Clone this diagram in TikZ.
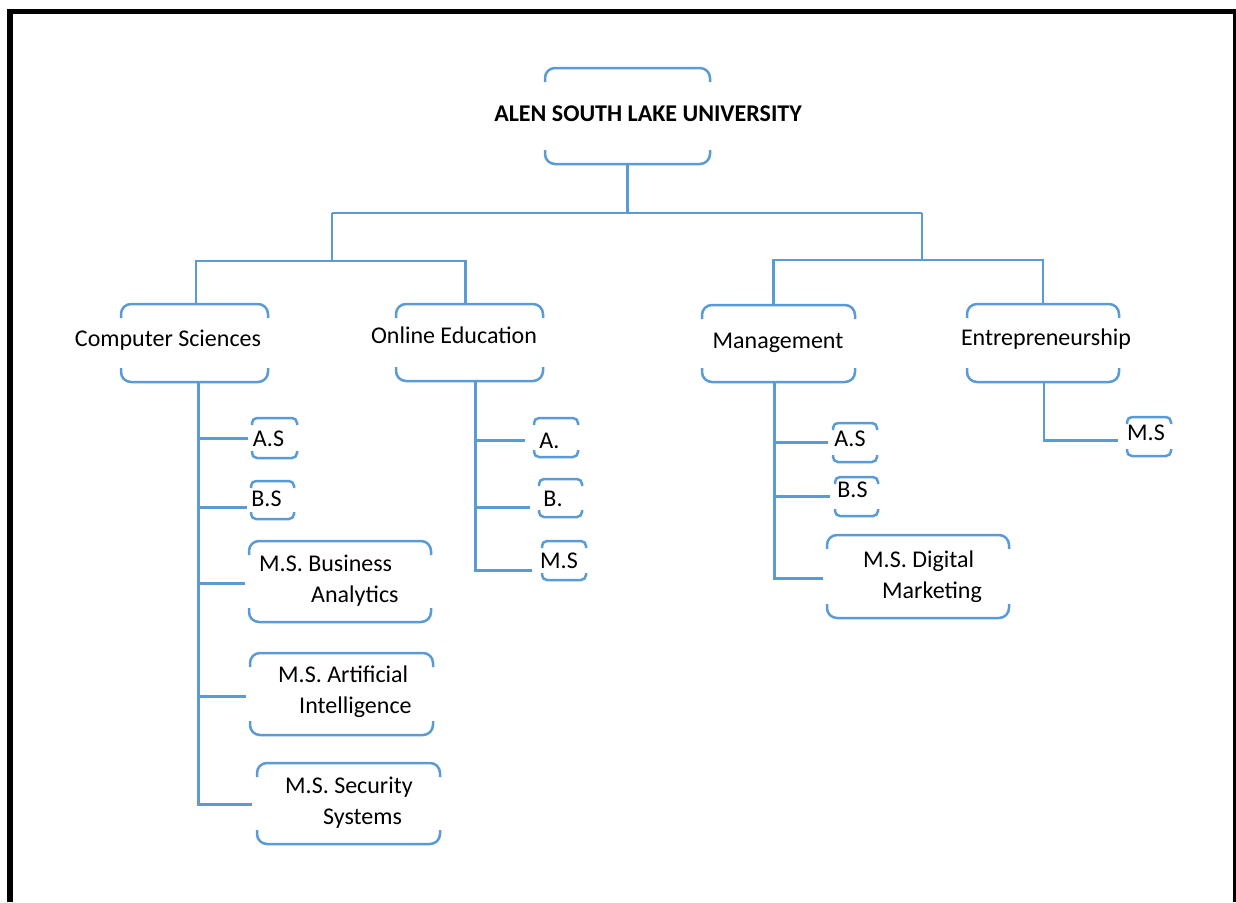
\documentclass[tikz,border=0pt]{standalone}
\usepackage{fontspec}
\setmainfont{Carlito}
\usetikzlibrary{fit}

\definecolor{lnblue}{RGB}{91,155,213}
\tikzset{
  bline/.style={draw=lnblue, line width=2.5pt},
  link/.style={draw=lnblue, line width=2.5pt},
  box/.style={inner sep=0pt, outer sep=0pt},
  txt/.style={inner sep=0pt, font=\fontsize{24}{31}\selectfont},
  two/.style={txt, align=left, anchor=west},
}
% top and bottom brackets round an empty node
\newcommand\bracketbox[2][10]{%
  \draw[bline, rounded corners=#1pt]
    ([yshift=-1.4*#1pt]#2.north west) |- (#2.north) -| ([yshift=-1.4*#1pt]#2.north east)
    ([yshift=1.4*#1pt]#2.south west) |- (#2.south) -| ([yshift=1.4*#1pt]#2.south east);}

\begin{document}
\begin{tikzpicture}[x=1pt,y=-1pt]
\useasboundingbox (0,0) rectangle (1236,902);
\draw[line width=5.6pt] (10,902) -- (10,11.5) -- (1236,11.5) -- (1236,902);

% boxes
\node[box, fit={(545,68) (710,164)}] (root) {};
\node[box, fit={(121,304) (268,382)}] (cs) {};
\node[box, fit={(396,304) (543,381)}] (oe) {};
\node[box, fit={(702,305) (855,382)}] (mg) {};
\node[box, fit={(967,304) (1119,382)}] (en) {};

\node[box, fit={(252,418) (297,458)}] (csas) {};
\node[box, fit={(251,481) (294,519)}] (csbs) {};
\node[box, fit={(249,541) (431,622)}] (csba) {};
\node[box, fit={(250,653) (433,735)}] (csai) {};
\node[box, fit={(257,763) (440,844)}] (csss) {};

\node[box, fit={(534,418) (578,457)}] (oea) {};
\node[box, fit={(539,479) (582,517)}] (oeb) {};
\node[box, fit={(542,541) (586,580)}] (oems) {};

\node[box, fit={(833,423) (877,462)}] (mgas) {};
\node[box, fit={(835,477) (878,516)}] (mgbs) {};
\node[box, fit={(827,535) (1009,618)}] (mgdm) {};

\node[box, fit={(1127,417) (1171,456)}] (enms) {};

\foreach \n in {root,cs,oe,mg,en,csba,csai,csss,mgdm} \bracketbox{\n};
\foreach \n in {csas,csbs,oea,oeb,oems,mgas,mgbs,enms} \bracketbox[5]{\n};

% texts
\node[txt, font=\fontsize{24}{31}\selectfont\bfseries, anchor=base] (rootT) at (648,121) {ALEN SOUTH LAKE UNIVERSITY};
\node[txt, anchor=base] (csT) at (168,346) {Computer Sciences};
\node[txt, anchor=base] (oeT) at (454,343) {Online Education};
\node[txt, anchor=base] (mgT) at (778,348) {Management};
\node[txt, anchor=base] (enT) at (1046,345) {Entrepreneurship};

\node[txt, anchor=base] (csasT) at (268.5,446) {A.S};
\node[txt, anchor=base] (csbsT) at (266.5,506) {B.S};
\node[two] (csbaT) at (259,581) {M.S. Business\\\hspace*{52pt}Analytics};
\node[two] (csaiT) at (278,692) {M.S. Artificial\\\hspace*{21pt}Intelligence};
\node[two] (csssT) at (285,803) {M.S. Security\\\hspace*{38pt}Systems};

\node[txt, anchor=base] (oeaT) at (549.5,448) {A.};
\node[txt, anchor=base] (oebT) at (553,506) {B.};
\node[txt, anchor=base] (oemsT) at (559,568) {M.S};

\node[txt, anchor=base] (mgasT) at (850,446) {A.S};
\node[txt, anchor=base] (mgbsT) at (852.5,497) {B.S};
\node[two] (mgdmT) at (863,577) {M.S. Digital\\\hspace*{19pt}Marketing};

\node[txt, anchor=base] (enmsT) at (1146,440) {M.S};

% tree lines
\coordinate (hubL) at (332,213);
\coordinate (hubR) at (922,213);
\draw[link] (root.south) -- (root.south |- hubL);
\draw[link] (hubL) -- (hubR);
\draw[link] ([xshift=1.5pt]cs.north) -- ++(0,-43) coordinate (busL) -| ([xshift=-4pt]oe.north);
\draw[link] ([xshift=-5pt]mg.north) -- ++(0,-45) coordinate (busR) -| (en.north);
\draw[link] (hubL) -- (hubL |- busL);
\draw[link] (hubR) -- (hubR |- busR);

% children
\coordinate (csD) at ([xshift=4pt]cs.south);
\draw[link] (csD) |- ([shift={(-5,1)}]csss.west);
\foreach \n/\d in {csas/-0.5, csbs/-7.5, csba/-2, csai/-2.5}{
  \path ([yshift=\d pt]\n.west) coordinate (tmp);
  \draw[link, shorten >=4pt] (csD |- tmp) -- (tmp);
}

\coordinate (oeD) at ([xshift=6pt]oe.south);
\draw[link] (oeD) |- ([shift={(-10,10)}]oems.west);
\foreach \n/\d in {oea/-3, oeb/-9.5}{
  \path ([yshift=\d pt]\n.west) coordinate (tmp);
  \draw[link, shorten >=9pt] (oeD |- tmp) -- (tmp);
}

\coordinate (mgD) at ([xshift=-4pt]mg.south);
\draw[link] (mgD) |- ([shift={(-4,2)}]mgdm.west);
\foreach \n/\d in {mgas/0, mgbs/0}{
  \path ([yshift=\d pt]\n.west) coordinate (tmp);
  \draw[link, shorten >=5pt] (mgD |- tmp) -- (tmp);
}

\coordinate (enD) at ([xshift=1pt]en.south);
\draw[link] (enD) |- ([shift={(-9,4)}]enms.west);
\end{tikzpicture}
\end{document}
